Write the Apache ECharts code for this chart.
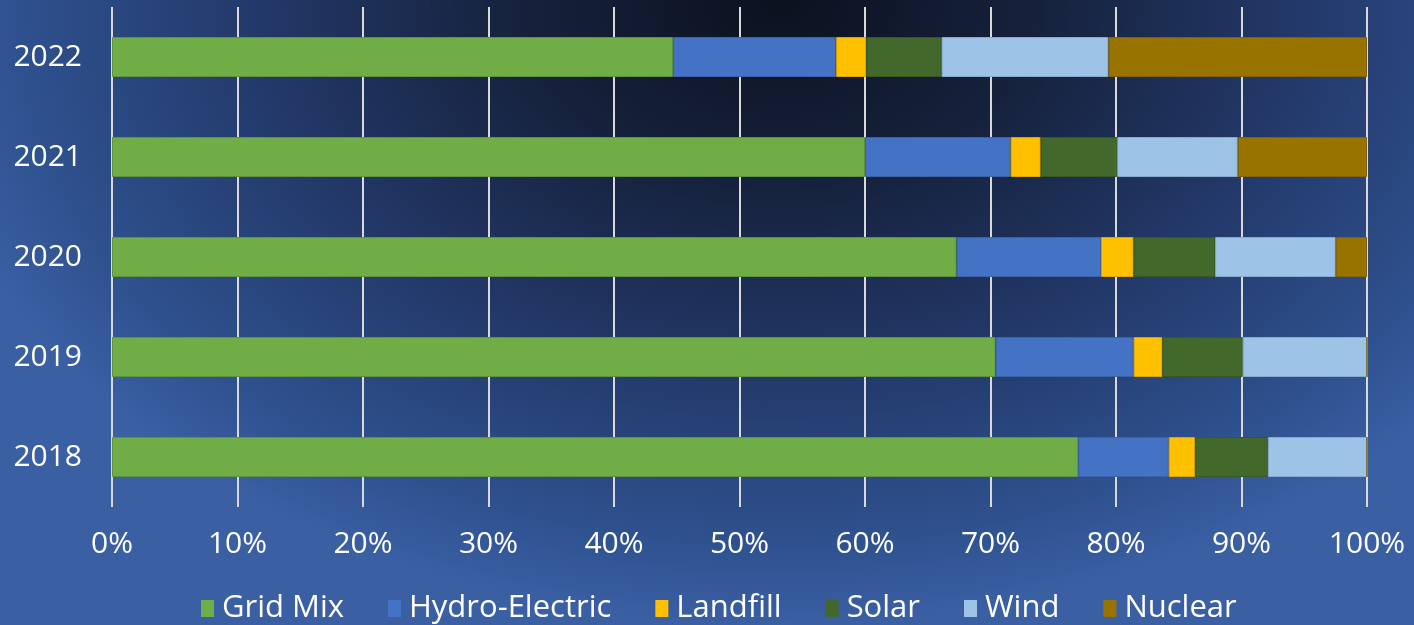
<!DOCTYPE html>
<html>
<head>
<meta charset="utf-8">
<script src="https://cdn.jsdelivr.net/npm/echarts@6/dist/echarts.min.js"></script>
<style>
    html, body {
        margin: 0;
        padding: 0;
    }

    #chart {
        width: 1414px;
        height: 625px;
        background: radial-gradient(ellipse 62% 100% at 55% 0%, #0b111e 0%, #16223d 30%, #23396a 60%, #2f5290 88%, #3a5fa3 100%);
    }
</style>
</head>
<body>
<div id="chart"></div>
<script>
const years = ['2018', '2019', '2020', '2021', '2022']
const seriesNames = ['Grid Mix', 'Hydro-Electric', 'Landfill', 'Solar', 'Wind', 'Nuclear']
// shares in percent, per year (2018 .. 2022)
const gridMix = [77.0, 70.4, 67.3, 60.0, 44.7]
const hydro = [7.2, 11.0, 11.5, 11.6, 13.0]
const landfill = [2.1, 2.3, 2.6, 2.4, 2.4]
const solar = [5.8, 6.4, 6.5, 6.1, 6.0]
const wind = [7.9, 9.9, 9.6, 9.6, 13.3]
const nuclear = [0, 0, 2.5, 10.3, 20.6]
const xTicks = [0, 10, 20, 30, 40, 50, 60, 70, 80, 90, 100]

const colors = ['#70ad47', '#4472c4', '#ffc000', '#43682b', '#9dc3e6', '#997300']
const borders = ['#5e9339', '#3a62a8', '#d9a300', '#385823', '#86a9cc', '#826200']
const dataArr = [gridMix, hydro, landfill, solar, wind, nuclear]

const font = '"Open Sans", "DejaVu Sans", sans-serif'

const chartObj = echarts.init(document.getElementById('chart'))

const series = seriesNames.map((name, i) => {
    return {
        name: name,
        type: 'bar',
        stack: 'total',
        barWidth: '40%',
        itemStyle: {
            color: colors[i],
            borderColor: borders[i],
            borderWidth: 1
        },
        data: dataArr[i]
    }
})

const option = {
    backgroundColor: 'transparent',
    animation: false,
    grid: {
        left: 112,
        right: 47,
        top: 7,
        bottom: 118
    },
    legend: {
        data: seriesNames,
        left: 196,
        bottom: -4,
        icon: 'rect',
        itemWidth: 13,
        itemHeight: 17,
        itemGap: 44,
        itemStyle: {borderWidth: 0},
        textStyle: {
            color: '#ffffff',
            fontFamily: font,
            fontSize: 31,
            padding: [0, 0, 0, 3]
        }
    },
    xAxis: {
        type: 'value',
        min: 0,
        max: 100,
        interval: 10,
        axisLine: {show: false},
        axisTick: {show: false},
        splitLine: {
            show: true,
            lineStyle: {color: '#d9d9d9', width: 2}
        },
        axisLabel: {
            color: '#ffffff',
            fontFamily: font,
            fontSize: 30,
            margin: 22,
            formatter: (value) => xTicks.includes(value) ? value + '%' : ''
        }
    },
    yAxis: {
        type: 'category',
        data: years,
        axisLine: {show: false},
        axisTick: {show: false},
        axisLabel: {
            color: '#ffffff',
            fontFamily: font,
            fontSize: 30,
            margin: 30
        }
    },
    series: series
}

chartObj.setOption(option)
</script>
</body>
</html>
